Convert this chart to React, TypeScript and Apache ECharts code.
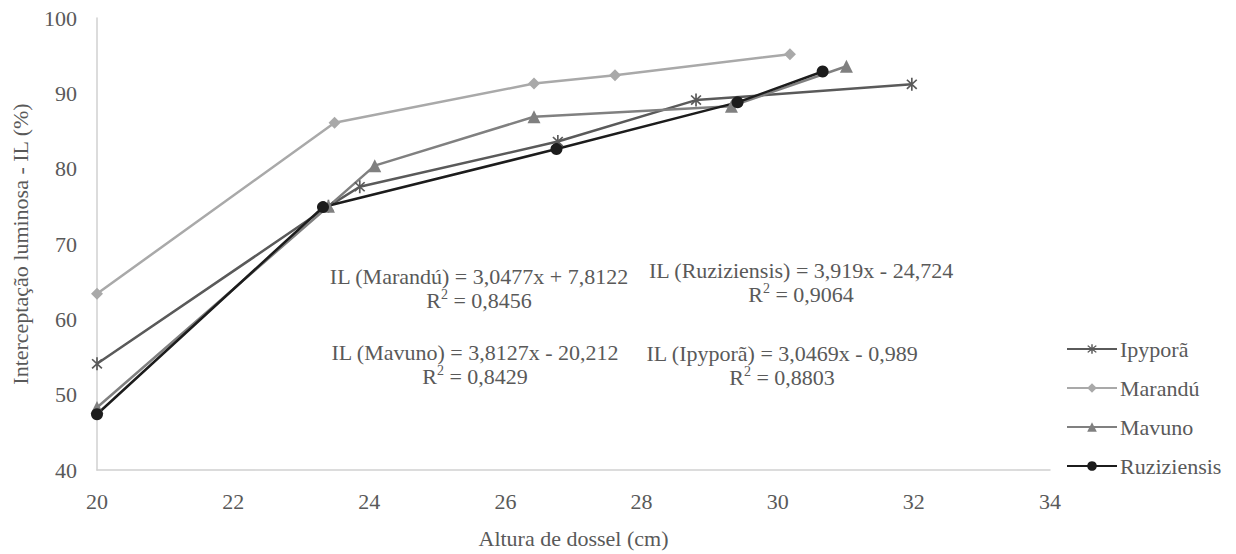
import React, { useEffect, useRef } from "react";
import * as echarts from "echarts";

const seriesNames = ["Ipyporã", "Marandú", "Mavuno", "Ruziziensis"];

const ipyporaX = [20, 23.4, 23.86, 26.77, 28.8, 31.97];
const ipyporaY = [54.1, 75.0, 77.6, 83.6, 89.1, 91.2];

const marnduX = [20, 23.49, 26.42, 27.61, 30.18];
const marnduY = [63.4, 86.1, 91.3, 92.4, 95.2];

const mavunoX = [20, 23.4, 24.08, 26.42, 29.32, 31.01];
const mavunoY = [48.3, 75.0, 80.4, 86.9, 88.3, 93.6];

const ruziX = [20, 23.32, 26.75, 29.41, 30.66];
const ruziY = [47.4, 74.9, 82.6, 88.8, 92.9];

const equationLines = [
  "IL (Marandú) = 3,0477x + 7,8122",
  "IL (Ruziziensis) = 3,919x - 24,724",
  "IL (Mavuno) = 3,8127x - 20,212",
  "IL (Ipyporã) = 3,0469x - 0,989",
];
const r2Values = ["0,8456", "0,9064", "0,8429", "0,8803"];

const xTitle = "Altura de dossel (cm)";
const yTitle = "Interceptação luminosa - IL (%)";

const colors = ["#5a5a5a", "#a9a9a9", "#808080", "#1c1c1c"];

const starPath =
  "path://M-0.6,-5L0.6,-5L0.6,5L-0.6,5Z M-3.08,-3.92L3.92,3.08L3.08,3.92L-3.92,-3.08Z M3.08,-3.92L3.92,-3.08L-3.08,3.92L-3.92,3.08Z";

const FONT = "Liberation Serif";
const TXT = "#595959";

function zip(xs: number[], ys: number[]) {
  return xs.map((x, i) => [x, ys[i]]);
}

export default function App() {
  const ref = useRef<HTMLDivElement>(null);
  useEffect(() => {
    if (!ref.current) return;
    const chart = echarts.init(ref.current, null, { renderer: "svg" });
    const mk = (name: string, data: number[][], color: string, symbol: string, size: any) => ({
      name,
      type: "line",
      data,
      symbol,
      symbolSize: size,
      showSymbol: true,
      lineStyle: { color, width: 2.5 },
      itemStyle: { color },
      z: 3,
    });
    const eqStyle = { fontFamily: FONT, fontSize: 22, fill: TXT, textAlign: "center" };
    const eqPos = [
      [479, 265],
      [801, 259],
      [475, 341],
      [782, 342],
    ];
    const graphics: any[] = [];
    equationLines.forEach((t, i) => {
      graphics.push({
        type: "text",
        x: eqPos[i][0],
        y: eqPos[i][1],
        z: 10,
        style: { ...eqStyle, text: t },
      });
      graphics.push({
        type: "text",
        x: eqPos[i][0],
        y: eqPos[i][1] + 22,
        z: 10,
        style: {
          text: "{a|R}{s|2}{a| = " + r2Values[i] + "}",
          textAlign: "center",
          fontFamily: FONT,
          fill: TXT,
          rich: {
            a: { fontFamily: FONT, fontSize: 22, lineHeight: 26, color: TXT },
            s: { fontFamily: FONT, fontSize: 14, lineHeight: 14, color: TXT, verticalAlign: "top" },
          },
        },
      });
    });
    chart.setOption({
      animation: false,
      backgroundColor: "#ffffff",
      textStyle: { fontFamily: FONT },
      grid: { left: 97, right: 186, top: 18, bottom: 76, containLabel: false },
      xAxis: {
        type: "value",
        min: 20,
        max: 34,
        interval: 2,
        name: xTitle,
        nameLocation: "middle",
        nameGap: 57,
        nameTextStyle: { fontFamily: FONT, fontSize: 22, color: TXT },
        axisLine: { show: true, lineStyle: { color: "#d0d0d0", width: 1.5 } },
        axisTick: { show: false },
        splitLine: { show: false },
        axisLabel: { fontFamily: FONT, fontSize: 22, color: TXT, margin: 20 },
      },
      yAxis: {
        type: "value",
        min: 40,
        max: 100,
        interval: 10,
        name: yTitle,
        nameLocation: "middle",
        nameGap: 66,
        nameTextStyle: { fontFamily: FONT, fontSize: 22, color: TXT },
        axisLine: { show: true, lineStyle: { color: "#d0d0d0", width: 1.5 } },
        axisTick: { show: false },
        splitLine: { show: false },
        axisLabel: { fontFamily: FONT, fontSize: 22, color: TXT, margin: 20 },
      },
      legend: {
        orient: "vertical",
        left: 1061,
        top: 333,
        itemWidth: 50,
        itemHeight: 12,
        itemGap: 17,
        textStyle: { fontFamily: FONT, fontSize: 22, color: TXT, padding: [0, 0, 0, -2] },
        data: seriesNames,
      },
      series: [
        mk(seriesNames[0], zip(ipyporaX, ipyporaY), colors[0], starPath, [11, 13]),
        mk(seriesNames[1], zip(marnduX, marnduY), colors[1], "diamond", 12),
        mk(seriesNames[2], zip(mavunoX, mavunoY), colors[2], "triangle", 13),
        mk(seriesNames[3], zip(ruziX, ruziY), colors[3], "circle", 12),
      ],
      graphic: graphics,
    });
    return () => chart.dispose();
  }, []);
  return (
    <div
      ref={ref}
      style={{ position: "absolute", left: 0, top: 0, width: 1236, height: 554 }}
    />
  );
}
